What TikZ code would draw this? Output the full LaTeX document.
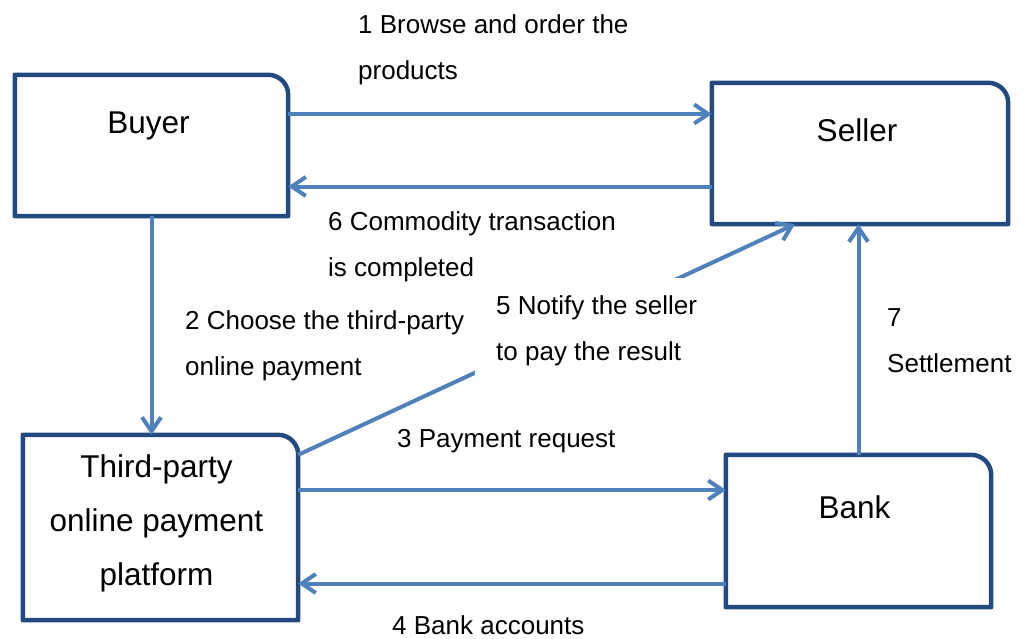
\documentclass[tikz,border=0pt]{standalone}
\usepackage{fontspec}
\setmainfont{Liberation Sans}
\usetikzlibrary{arrows.meta}

\definecolor{boxblue}{RGB}{35,74,128}
\definecolor{flowblue}{RGB}{79,129,189}

\tikzset{
    box/.style={rectangle, draw=none, inner sep=0pt},
    boxline/.style={draw=boxblue, line width=4.5pt, line join=round},
    boxtext/.style={font=\fontsize{31.5}{54}\selectfont, align=center, inner sep=0pt},
    flow/.style={->, draw=flowblue, line width=4pt},
    flowtext/.style={font=\fontsize{26}{46}\selectfont, align=left, inner sep=0pt, anchor=north west},
    >={Straight Barb[length=14pt,width=19pt]}
}

% outline with one rounded corner (top right)
\newcommand{\cornerbox}[1]{%
    \draw [boxline] (#1.south west) -- (#1.north west) -- ([xshift=-20pt]#1.north east)
        arc [start angle=90, end angle=0, radius=20pt] -- (#1.south east) -- cycle;}

\begin{document}
\begin{tikzpicture}[x=1pt, y=-1pt]
    \useasboundingbox (0,0) rectangle (1023,638);

    \node [box, minimum width=273pt, minimum height=141pt] (buyer) at (151.5,145.5) {};
    \node [box, minimum width=296pt, minimum height=141pt] (seller) at (860,153.5) {};
    \node [box, minimum width=275pt, minimum height=185pt] (platform) at (160.5,527.5) {};
    \node [box, minimum width=265pt, minimum height=152pt] (bank) at (858.5,531) {};

    \cornerbox{buyer}
    \cornerbox{seller}
    \cornerbox{platform}
    \cornerbox{bank}

    \node [boxtext, anchor=base] (buyertext) at (148.5,133) {Buyer};
    \node [boxtext, anchor=base] (sellertext) at (857,141.5) {Seller};
    \node [boxtext, anchor=north] (platformtext) at (156.5,454) {Third-party\\online payment\\platform};
    \node [boxtext, anchor=base] (banktext) at (854.5,518) {Bank};

    \draw [flow] ([yshift=31.5pt]buyer.east) -- ([yshift=31.5pt]buyer.east -| seller.west);
    \draw [flow] ([yshift=-33pt]seller.west) -- ([yshift=-33pt]seller.west -| buyer.east);
    \draw [flow] (buyer.south) -- (buyer.south |- platform.north);
    \draw [flow] ([yshift=37.5pt]platform.east) -- ([yshift=37.5pt]platform.east -| bank.west);
    \draw [flow] ([yshift=-52.5pt]bank.west) -- ([yshift=-52.5pt]bank.west -| platform.east);
    \draw [flow] ([yshift=-20pt]platform.north east) -- ([xshift=-65pt]seller.south);
    \draw [flow] (bank.north) -- (bank.north |- seller.south);

    \node [flowtext] (order) at (358,14) {1 Browse and order the\\products};
    \node [flowtext] (choose) at (185,310.5) {2 Choose the third-party\\online payment};
    \node [flowtext] (request) at (397,429) {3 Payment request};
    \node [flowtext] (accounts) at (392,615) {4 Bank accounts};
    \node [flowtext, fill=white, inner xsep=21pt, inner ysep=10pt] (notify) at (475,278) {\rule{0pt}{26pt}5 Notify the seller\\to pay the result};
    \node [flowtext] (completed) at (328,211.5) {6 Commodity transaction\\is completed};
    \node [flowtext] (settle) at (887,308.5) {7\\Settlement};
\end{tikzpicture}
\end{document}
